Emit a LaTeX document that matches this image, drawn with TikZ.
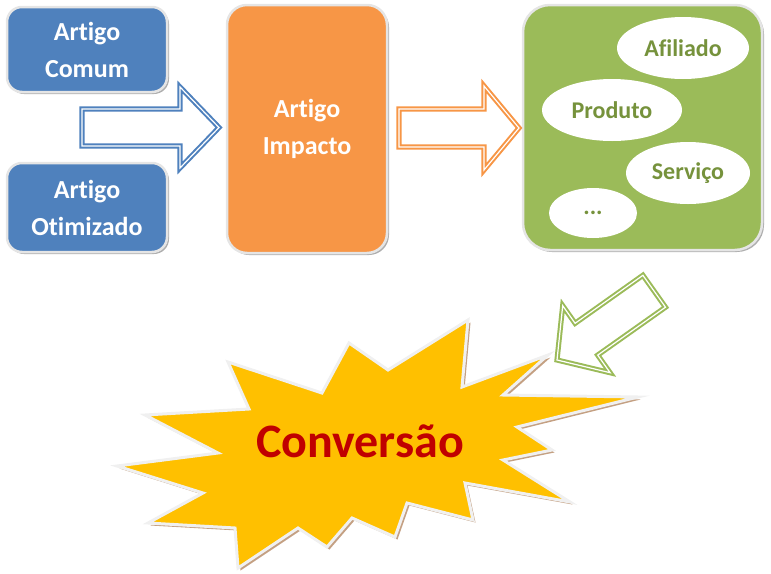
\documentclass[tikz,border=0pt]{standalone}
\usepackage{fontspec}
\setmainfont{Carlito}[Ligatures=CommonOff]
\usetikzlibrary{shapes.geometric, shadows}
\definecolor{boxblue}{HTML}{4F81BD}
\definecolor{boxorange}{HTML}{F79646}
\definecolor{boxgreen}{HTML}{9BBB59}
\definecolor{textgreen}{HTML}{76923C}
\definecolor{burstyellow}{HTML}{FFC000}
\definecolor{burstred}{HTML}{C00000}
\definecolor{burstshadow}{RGB}{196,160,130}

\begin{document}
\begin{tikzpicture}[x=1pt, y=-1pt,
  box/.style={rectangle, draw=white!90!black, line width=2.5pt, inner sep=0pt,
              text=white, align=center, font=\fontsize{26}{37}\selectfont\bfseries,
              drop shadow={shadow xshift=2pt, shadow yshift=-2pt, fill=black!45, opacity=0.7}},
  bluebox/.style={box, fill=boxblue, rounded corners=15pt, minimum width=160pt},
  orangebox/.style={box, fill=boxorange, rounded corners=20pt},
  greenbox/.style={box, fill=boxgreen, rounded corners=27pt},
  oval/.style={ellipse, fill=white, inner sep=0pt, text=textgreen,
               font=\fontsize{24}{28}\selectfont\bfseries},
  blockarrow/.style={draw=#1, fill=white, line width=2pt, double=white,
                     double distance=1.2pt, line join=miter},
  burst/.style={fill=burstyellow, draw=white!94!black, line width=3pt, line join=miter,
                drop shadow={shadow xshift=2.5pt, shadow yshift=-2.5pt, fill=burstshadow, opacity=1}}
]
\useasboundingbox (0,0) rectangle (771,573);

\node[bluebox, minimum height=85pt] (comum) at (87,49.5) {Artigo\\Comum};
\node[bluebox, minimum height=89pt] (otimizado) at (87,207.5) {Artigo\\Otimizado};
\node[orangebox, minimum width=160pt, minimum height=248pt] (impacto) at (307,129) {Artigo\\Impacto};
\node[greenbox, minimum width=239pt, minimum height=245pt] (canais) at (642.5,127.5) {};

\node[oval, minimum width=132pt, minimum height=62pt] (afiliado) at (683,48) {Afiliado};
\node[oval, minimum width=140pt, minimum height=62pt] (produto) at (612,110) {Produto};
\node[oval, minimum width=124pt, minimum height=62pt] (servico) at (688,173) {Serviço};
\node[oval, minimum width=88pt, minimum height=50pt] (outros) at (593,213) {...};

\draw[blockarrow=boxblue] (82,109) -- (180,109) -- (180,87) -- (219,127.5)
  -- (180,168) -- (180,146) -- (82,146) -- cycle;
\draw[blockarrow=boxorange] (399,109) -- (484,109) -- (484,86) -- (519,128)
  -- (484,170) -- (484,147) -- (399,147) -- cycle;
\draw[blockarrow=boxgreen] (557,360) -- (562.7,305.7) -- (575.1,323.3) -- (642.9,275.3)
  -- (665.5,307.2) -- (597.7,355.1) -- (610.1,372.7) -- cycle;

\draw[burst] (228,362) -- (322,393) -- (349,343) -- (388,370) -- (468,320) -- (462,387)
  -- (548,355) -- (503,395) -- (638,397) -- (517,427) -- (552,450) -- (503,460)
  -- (570,502) -- (465,483) -- (473,520) -- (407,503) -- (395,537) -- (352,518)
  -- (327,547) -- (298,528) -- (238,568) -- (235,528) -- (148,523) -- (203,493)
  -- (117,466) -- (218,453) -- (145,415) -- (249,409) -- cycle;
\node[anchor=base, text=burstred, font=\fontsize{48}{52}\selectfont\bfseries] (conversao)
  at (360,457) {Conversão};
\end{tikzpicture}
\end{document}
